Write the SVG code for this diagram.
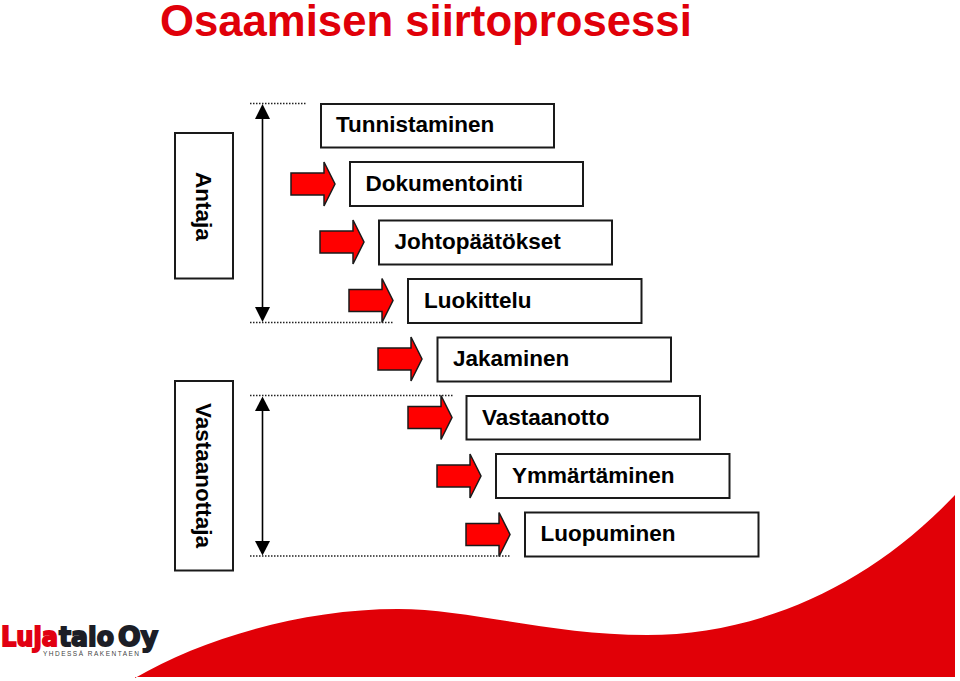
<svg xmlns="http://www.w3.org/2000/svg" width="960" height="681" viewBox="0 0 960 681">
<style>
text{font-family:"Liberation Sans",Arial,sans-serif;font-weight:700;fill:#000}
.t{font-size:22.5px}
.b{fill:#fff;stroke:#1a1a1a;stroke-width:2}
.a{fill:#f00;stroke:#1a1a1a;stroke-width:1.5}
.d{stroke:#222;stroke-width:1.5;stroke-dasharray:1.5 1.5;fill:none}
.l{stroke:#000;stroke-width:1.6;fill:none}
.logo{font-family:"DejaVu Sans",sans-serif;font-size:26px;stroke-width:1.8}
</style>
<defs>
<path id="arr" class="a" d="M0 0H33V-11L44 11L33 33V22H0Z"/>
</defs>
<rect width="960" height="681" fill="#fff"/>
<path id="swoosh" d="M135 678C200 640 300 609 398 609C470 609 550 635 647 635C760 635 870 585 955 495V677H135Z" fill="#e10007"/>
<text x="160" y="36" style="fill:#e00009;font-size:43.7px">Osaamisen siirtoprosessi</text>
<g id="connectors">
<path class="d" d="M250 103.500H307M250 322.500H394M250 395.500H453M250 556H511"/>
<path class="l" d="M262.500 115V312M262.500 408V543"/>
<polygon points="262.500,104 270,119 255,119" fill="#000"/>
<polygon points="262.500,322 270,307 255,307" fill="#000"/>
<polygon points="262.500,396.500 270,411 255,411" fill="#000"/>
<polygon points="262.500,555.500 270,541 255,541" fill="#000"/>
</g>
<g id="antaja"><rect class="b" x="175" y="133" width="58" height="145.500"/><text class="t" transform="translate(195.500 172) rotate(90)">Antaja</text></g>
<g id="vastaanottaja"><rect class="b" x="175" y="381" width="58" height="189.500"/><text class="t" transform="translate(195.500 403) rotate(90)">Vastaanottaja</text></g>
<g id="n1"><rect class="b" x="321" y="104" width="233" height="43.500"/><text class="t" x="336" y="132">Tunnistaminen</text></g>
<g id="n2"><use href="#arr" x="291" y="173"/><rect class="b" x="350" y="162" width="233" height="44"/><text class="t" x="365.500" y="190.500">Dokumentointi</text></g>
<g id="n3"><use href="#arr" x="320" y="231"/><rect class="b" x="379" y="220.500" width="233" height="44"/><text class="t" x="394.500" y="249">Johtopäätökset</text></g>
<g id="n4"><use href="#arr" x="349" y="289.500"/><rect class="b" x="408" y="279" width="233.500" height="44"/><text class="t" x="424" y="307.500">Luokittelu</text></g>
<g id="n5"><use href="#arr" x="378" y="348"/><rect class="b" x="437.500" y="337.500" width="233.500" height="44"/><text class="t" x="453" y="365.500">Jakaminen</text></g>
<g id="n6"><use href="#arr" x="408" y="406.500"/><rect class="b" x="466.500" y="396" width="233.500" height="43.500"/><text class="t" x="482" y="424.500">Vastaanotto</text></g>
<g id="n7"><use href="#arr" x="437" y="465"/><rect class="b" x="496" y="454" width="233.500" height="44"/><text class="t" x="512" y="482.500">Ymmärtäminen</text></g>
<g id="n8"><use href="#arr" x="466" y="523.500"/><rect class="b" x="525" y="512.500" width="233.500" height="44"/><text class="t" x="540.500" y="541">Luopuminen</text></g>
<g id="logo">
<text class="logo" x="1" y="646" textLength="57" lengthAdjust="spacingAndGlyphs" style="fill:#e10012;stroke:#e10012">Luja</text>
<text class="logo" x="59" y="646" textLength="55" lengthAdjust="spacingAndGlyphs" style="fill:#1c1e26;stroke:#1c1e26">talo</text>
<text class="logo" x="118" y="646" textLength="40" lengthAdjust="spacingAndGlyphs" style="fill:#1c1e26;stroke:#1c1e26">Oy</text>
<text x="43" y="656" textLength="96" style="fill:#444;font-size:6.5px;font-weight:400">YHDESSÄ RAKENTAEN</text>
</g>
</svg>
